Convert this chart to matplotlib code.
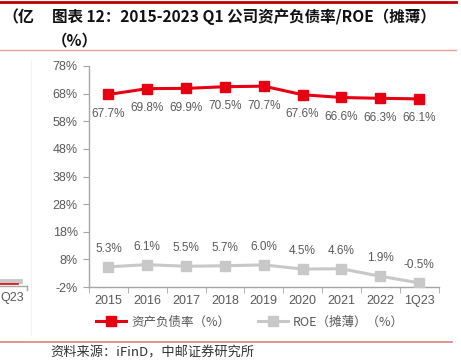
import matplotlib
matplotlib.use("Agg")
import matplotlib.pyplot as plt
from matplotlib.lines import Line2D

plt.rcParams['font.family'] = ['Liberation Sans', 'Noto Sans CJK SC', 'DejaVu Sans']

# data
categories = ["2015", "2016", "2017", "2018", "2019", "2020", "2021", "2022", "1Q23"]
debt_ratio = [67.7, 69.8, 69.9, 70.5, 70.7, 67.6, 66.6, 66.3, 66.1]
roe = [5.3, 6.1, 5.5, 5.7, 6.0, 4.5, 4.6, 1.9, -0.5]
yticks = [-2, 8, 18, 28, 38, 48, 58, 68, 78]

RED = "#E60012"
GRAY = "#C8C8C8"
TXT = "#595959"
AX = "#A6A6A6"
CJK = ['Noto Sans CJK SC', 'DejaVu Sans']

W, H = 461, 360
fig = plt.figure(figsize=(W / 100, H / 100), dpi=100)


def fx(px):
    return px / W


def fy(py):
    return 1 - py / H


# chart area
ax = fig.add_axes([fx(89), fy(287), fx(438.5 - 89), (287 - 66) / H])
x = list(range(len(categories)))
ax.plot(x, debt_ratio, color=RED, lw=2.2, marker="s", ms=7, zorder=3)
ax.plot(x, roe, color=GRAY, lw=2.2, marker="s", ms=7, zorder=3)

for i, v in enumerate(debt_ratio):
    ax.annotate(f"{v:.1f}%", (i, v), xytext=(0, -14), textcoords="offset points",
                ha="center", va="center", fontsize=8.5, color=TXT)
for i, v in enumerate(roe):
    ax.annotate(f"{v:.1f}%", (i, v), xytext=(0, 13), textcoords="offset points",
                ha="center", va="center", fontsize=8.5, color=TXT)

ax.set_xlim(-0.5, len(categories) - 0.5)
ax.set_ylim(-2, 78)
ax.set_yticks(yticks)
ax.set_yticklabels([f"{t}%" for t in yticks])
ax.set_xticks(x)
ax.set_xticklabels(categories)
ax.set_xticks([i - 0.5 for i in range(len(categories) + 1)], minor=True)
ax.tick_params(axis="x", which="major", length=0, pad=6, labelsize=9, labelcolor=TXT)
ax.tick_params(axis="x", which="minor", length=4, color=AX, direction="out")
ax.tick_params(axis="y", length=4, color=AX, pad=4, labelsize=9, labelcolor=TXT)
for s in ["top", "right"]:
    ax.spines[s].set_visible(False)
for s in ["left", "bottom"]:
    ax.spines[s].set_color(AX)
    ax.spines[s].set_linewidth(1)

# legend
h1 = Line2D([], [], color=RED, lw=2.2, marker="s", ms=7)
h2 = Line2D([], [], color=GRAY, lw=2.2, marker="s", ms=7)
leg = fig.legend([h1, h2], ["资产负债率（%）", "ROE（摊薄）（%）"], loc="center",
                 bbox_to_anchor=(fx(250), fy(322)), ncol=2, frameon=False,
                 handlelength=2.4, columnspacing=2.2, handletextpad=0.4,
                 prop={'family': CJK, 'size': 9})
for t in leg.get_texts():
    t.set_color(TXT)

# title & frame lines
fig.add_artist(Line2D([0, fx(456)], [fy(2), fy(2)], color="#C00000", lw=2))
fig.add_artist(Line2D([0, fx(456)], [fy(50), fy(50)], color="#E8A0A0", lw=1))
fig.add_artist(Line2D([0, fx(452)], [fy(342), fy(342)], color="#E08080", lw=1.2))
fig.text(fx(2), fy(17), "（亿", family=CJK, fontsize=11.5, fontweight="bold", va="center", color="#111111")
fig.text(fx(52), fy(17), "图表 12：2015-2023 Q1 公司资产负债率/ROE（摊薄）", family=CJK,
         fontsize=11.2, fontweight="bold", va="center", color="#111111")
fig.text(fx(52), fy(40), "（%）", family=CJK, fontsize=11.2, fontweight="bold", va="center", color="#111111")
fig.text(fx(50), fy(359.5), "资料来源：iFinD，中邮证券研究所", family=CJK, fontsize=9.5,
         va="bottom", color="#333333")

# fragment of neighbouring chart at left edge
fig.add_artist(Line2D([0, fx(20)], [fy(281), fy(281)], color=GRAY, lw=3.5))
fig.add_artist(Line2D([0, fx(18)], [fy(284), fy(284)], color=RED, lw=1.2))
fig.add_artist(Line2D([0, fx(27)], [fy(286), fy(286)], color=AX, lw=1))
fig.add_artist(Line2D([fx(27), fx(27)], [fy(286), fy(290)], color=AX, lw=1))
fig.add_artist(Line2D([fx(31), fx(31)], [fy(60), fy(335)], color="#F2F2F2", lw=0.8))
fig.text(fx(0.5), fy(298), "Q23", fontsize=9, color=TXT, va="center")

fig.savefig("out.png", dpi=100)
